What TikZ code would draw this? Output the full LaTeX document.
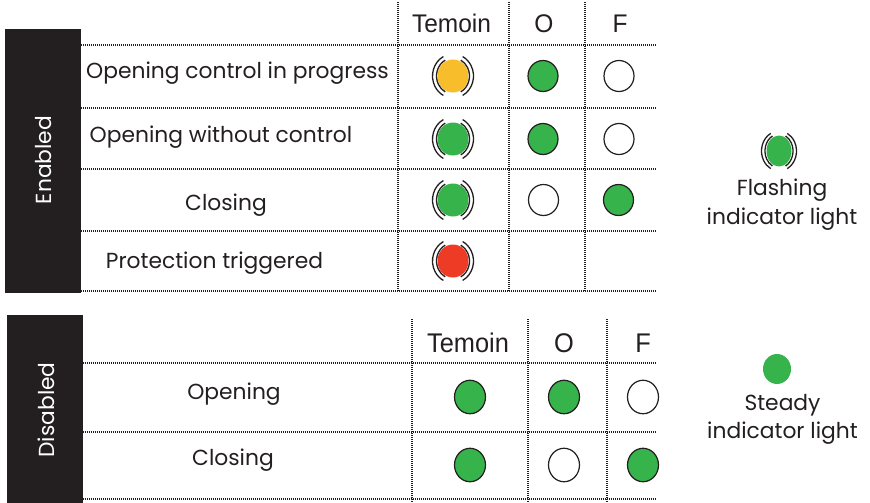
\documentclass[tikz,border=0pt]{standalone}
\usepackage{fontspec}
\setmainfont{Poppins}
\newfontfamily\hdrfont[FakeStretch=0.96]{Liberation Sans}
\newfontfamily\hdrnarrow[FakeStretch=0.94]{Liberation Sans}
\usetikzlibrary{positioning,shapes}
\definecolor{bar}{HTML}{231F20}
\definecolor{lampgreen}{HTML}{36B34A}
\definecolor{lampyellow}{HTML}{F8BD2A}
\definecolor{lampred}{HTML}{EE3B26}
\begin{document}
\begin{tikzpicture}[x=1pt,y=-1pt]
\tikzstyle{lamp}=[draw=bar,ellipse,line width=1.2pt,inner sep=0pt,minimum width=30pt,minimum height=31pt]
\tikzstyle{lit}=[lamp,fill=lampgreen]
\tikzstyle{unlit}=[lamp,fill=white]
\tikzstyle{big}=[minimum width=31pt,minimum height=33.5pt]
\tikzstyle{flash}=[ellipse,inner sep=0pt,minimum width=31pt,minimum height=33pt]
\tikzstyle{wave}=[draw=bar,line width=1.3pt]
\tikzstyle{dotline}=[draw=bar,line width=1.2pt,dash pattern=on 1pt off 1pt]
\tikzstyle{rowtext}=[font=\fontsize{21.8}{26}\selectfont,anchor=base,text=bar,inner sep=0pt]
\tikzstyle{hdr}=[font=\hdrfont\fontsize{25.5}{30}\selectfont,anchor=base,text=bar,inner sep=0pt]
\tikzstyle{hdrbig}=[hdr,font=\hdrnarrow\fontsize{27}{31}\selectfont]
\tikzstyle{sidetext}=[font=\fontsize{21.8}{26}\selectfont,text=white,rotate=90,inner sep=0pt]
\useasboundingbox (0,0) rectangle (870,503);
% black side bars
\fill [bar] (5,29) rectangle (81,293);
\fill [bar] (6.5,315) rectangle (82.5,503);
% dotted grid, enabled
\foreach \y in {45,108,169,231,291} \draw [dotline] (81,\y) -- (656,\y);
\foreach \x in {398,509,585} \draw [dotline] (\x,2) -- (\x,291);
% dotted grid, disabled
\foreach \y in {363,432,499} \draw [dotline] (82.5,\y) -- (656,\y);
\foreach \x in {412,528,607} \draw [dotline] (\x,319) -- (\x,503);
\node [sidetext] at (44,160) (en) {Enabled};
\node [sidetext] at (46,410) (dis) {Disabled};
% enabled table
\node [hdr] at (451.5,33) (temA) {Temoin};
\node [hdr] at (544,33) (oA) {O};
\node [hdr] at (620,33) (fA) {F};
\node [rowtext] at (237.5,78) (r1) {Opening control in progress};
\node [rowtext] at (221,142) (r2) {Opening without control};
\node [rowtext] at (226,210) (r3) {Closing};
\node [rowtext] at (214.5,268) (r4) {Protection triggered};
\node [flash,fill=lampyellow] at (453,76) (t1) {};
\node [flash,fill=lampgreen] at (453,139) (t2) {};
\node [flash,fill=lampgreen] at (453,200) (t3) {};
\node [flash,fill=lampred] at (453,261) (t4) {};
\node [lit] at (543,76) (o1) {};
\node [lit] at (543,139) (o2) {};
\node [unlit] at (543.5,200) (o3) {};
\node [unlit] at (619,76) (f1) {};
\node [unlit] at (619,139) (f2) {};
\node [lit] at (618.5,200) (f3) {};
% disabled table
\node [hdrbig] at (468,352) (temB) {Temoin};
\node [hdrbig] at (564,352) (oB) {O};
\node [hdrbig] at (643,352) (fB) {F};
\node [rowtext] at (234,399) (s1) {Opening};
\node [rowtext] at (233,465) (s2) {Closing};
\node [lit,big] at (470,397) (t5) {};
\node [lit,big] at (564,397) (o5) {};
\node [unlit,big] at (643,397) (f5) {};
\node [lit,big] at (470,465) (t6) {};
\node [unlit,big] at (564,465) (o6) {};
\node [lit,big] at (643,465) (f6) {};
% legend
\node [flash,fill=lampgreen,minimum width=25pt,minimum height=31pt] at (779,151) (kf) {};
\node [rowtext] at (782,195) (kf1) {Flashing};
\node [rowtext,below=29pt of kf1.base,anchor=base] (kf2) {indicator light};
\node [ellipse,fill=lampgreen,inner sep=0pt,minimum width=28pt,minimum height=30pt] at (777,369) (ks) {};
\node [rowtext] at (782.5,410) (ks1) {Steady};
\node [rowtext,below=28pt of ks1.base,anchor=base] (ks2) {indicator light};
% flashing arcs
\foreach \n/\a/\b/\c/\d in {t1/16.5/18/20.5/22,t2/16.5/18/20.5/22,t3/16.5/18/20.5/22,t4/16.5/18/20.5/22,kf/14/17/17.5/20}
{
\draw [wave] (\n.center) ++(118:\a pt and \b pt) arc [start angle=118,end angle=242,x radius=\a pt,y radius=\b pt];
\draw [wave] (\n.center) ++(118:\c pt and \d pt) arc [start angle=118,end angle=242,x radius=\c pt,y radius=\d pt];
\draw [wave] (\n.center) ++(-62:\a pt and \b pt) arc [start angle=-62,end angle=62,x radius=\a pt,y radius=\b pt];
\draw [wave] (\n.center) ++(-62:\c pt and \d pt) arc [start angle=-62,end angle=62,x radius=\c pt,y radius=\d pt];
}
\end{tikzpicture}
\end{document}
